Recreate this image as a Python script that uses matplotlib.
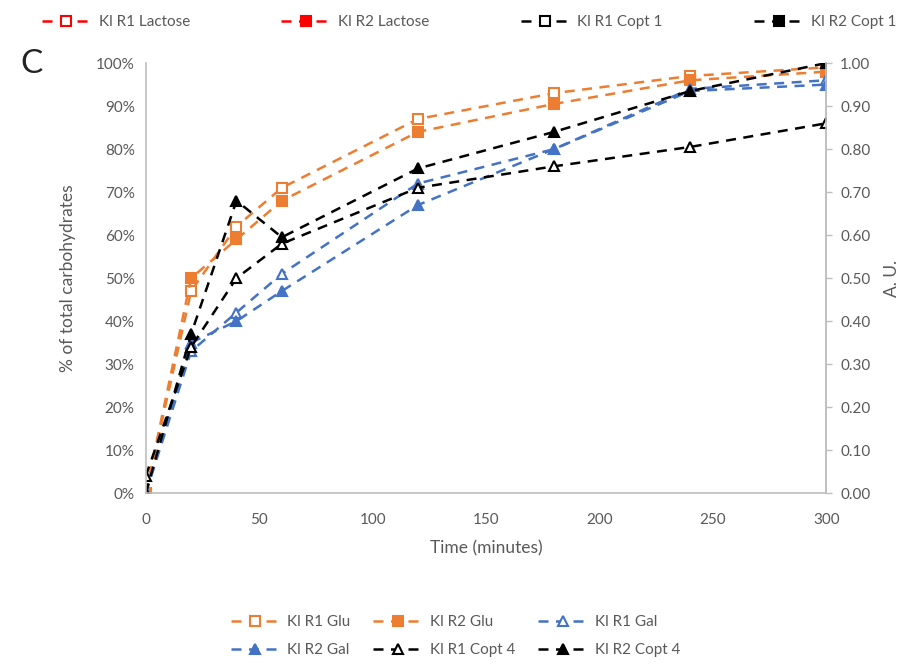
import matplotlib
matplotlib.use("Agg")
import matplotlib.pyplot as plt
from matplotlib.ticker import FuncFormatter, MultipleLocator

time = [0, 20, 40, 60, 120, 180, 240, 300]

r1_glu = [0, 47, 62, 71, 87, 93, 97, 99]
r2_glu = [0, 50, 59, 68, 84, 90.5, 96, 98]
r1_gal = [0, 33, 42, 51, 72, 80, 94, 96]
r2_gal = [0, 35, 40, 47, 67, 80, 93.5, 95]
r1_copt4 = [4, 34, 50, 58, 71, 76, 80.5, 86]
r2_copt4 = [0, 37, 68, 59.5, 75.5, 84, 93.5, 100]

top_labels = ["Kl R1 Lactose", "Kl R2 Lactose", "Kl R1 Copt 1", "Kl R2 Copt 1"]
bottom_labels = ["Kl R1 Glu", "Kl R2 Glu", "Kl R1 Gal", "Kl R2 Gal", "Kl R1 Copt 4", "Kl R2 Copt 4"]

ORANGE = "#ED7D31"
BLUE = "#4472C4"
BLACK = "#000000"
RED = "#FF0000"
GRAY = "#595959"

plt.rcParams['font.family'] = ['Lato', 'DejaVu Sans']

fig = plt.figure(figsize=(9.11, 6.71), dpi=100)
ax = fig.add_axes([0.160, 0.265, 0.747, 0.641])

dash = (0, (4, 3))
lw = 1.8
ms = 7

def plot(ax, y, color, marker, filled, label):
    return ax.plot(time, y, linestyle=dash, color=color, lw=lw, marker=marker, ms=ms,
                   markerfacecolor=color if filled else "white", markeredgecolor=color,
                   markeredgewidth=1.5, label=label)[0]

h_glu1 = plot(ax, r1_glu, ORANGE, "s", False, bottom_labels[0])
h_glu2 = plot(ax, r2_glu, ORANGE, "s", True, bottom_labels[1])
h_gal1 = plot(ax, r1_gal, BLUE, "^", False, bottom_labels[2])
h_gal2 = plot(ax, r2_gal, BLUE, "^", True, bottom_labels[3])
h_c41 = plot(ax, r1_copt4, BLACK, "^", False, bottom_labels[4])
h_c42 = plot(ax, r2_copt4, BLACK, "^", True, bottom_labels[5])

ax.set_xlim(0, 300)
ax.set_ylim(0, 100)
ax.xaxis.set_major_locator(MultipleLocator(50))
ax.yaxis.set_major_locator(MultipleLocator(10))
ax.yaxis.set_major_formatter(FuncFormatter(lambda v, p: f"{v:.0f}%"))
ax.tick_params(axis="both", colors=GRAY, labelsize=11, length=0, pad=8)
ax.tick_params(axis="x", pad=14)
ax.spines["top"].set_visible(False)
for s in ["left", "bottom", "right"]:
    ax.spines[s].set_color("#BFBFBF")
    ax.spines[s].set_linewidth(1.2)

ax2 = ax.twinx()
ax2.set_ylim(0, 1)
ax2.yaxis.set_major_locator(MultipleLocator(0.1))
ax2.yaxis.set_major_formatter(FuncFormatter(lambda v, p: f"{v:.2f}"))
ax2.tick_params(axis="y", colors=GRAY, labelsize=11, length=4, width=1, pad=6)
ax2.tick_params(axis="y", color="#BFBFBF")
for s in ["top", "left", "bottom"]:
    ax2.spines[s].set_visible(False)
ax2.spines["right"].set_color("#BFBFBF")
ax2.spines["right"].set_linewidth(1.2)

h_lac1 = ax2.plot([], [], linestyle=dash, color=RED, lw=lw, marker="s", ms=ms,
                  markerfacecolor="white", markeredgecolor=RED, markeredgewidth=1.5, label=top_labels[0])[0]
h_lac2 = ax2.plot([], [], linestyle=dash, color=RED, lw=lw, marker="s", ms=ms,
                  markerfacecolor=RED, markeredgecolor=RED, markeredgewidth=1.5, label=top_labels[1])[0]
h_c11 = ax2.plot([], [], linestyle=dash, color=BLACK, lw=lw, marker="s", ms=ms,
                 markerfacecolor="white", markeredgecolor=BLACK, markeredgewidth=1.5, label=top_labels[2])[0]
h_c12 = ax2.plot([], [], linestyle=dash, color=BLACK, lw=lw, marker="s", ms=ms,
                 markerfacecolor=BLACK, markeredgecolor=BLACK, markeredgewidth=1.5, label=top_labels[3])[0]

ax.set_zorder(ax2.get_zorder() + 1)
ax.patch.set_visible(False)

ax.set_xlabel("Time (minutes)", color=GRAY, fontsize=12.5, labelpad=10)
ax.set_ylabel("% of total carbohydrates", color=GRAY, fontsize=12.5, labelpad=14)
ax2.set_ylabel("A. U.", color=GRAY, fontsize=12.5, labelpad=10)

fig.text(0.022, 0.905, "C", fontsize=24, color="#222222", va="center", ha="left")

fig.legend(handles=[h_lac1, h_lac2, h_c11, h_c12], loc="center", bbox_to_anchor=(0.515, 0.967),
           ncol=4, frameon=False, fontsize=11, handlelength=3.2, columnspacing=6.0,
           labelcolor=GRAY, handletextpad=0.5)
fig.legend(handles=[h_glu1, h_gal2, h_glu2, h_c41, h_gal1, h_c42], loc="center",
           bbox_to_anchor=(0.5, 0.052), ncol=3, frameon=False, fontsize=11, handlelength=3.2,
           columnspacing=1.5, labelcolor=GRAY, handletextpad=0.5, labelspacing=0.9)

fig.savefig("out.png", dpi=100)
